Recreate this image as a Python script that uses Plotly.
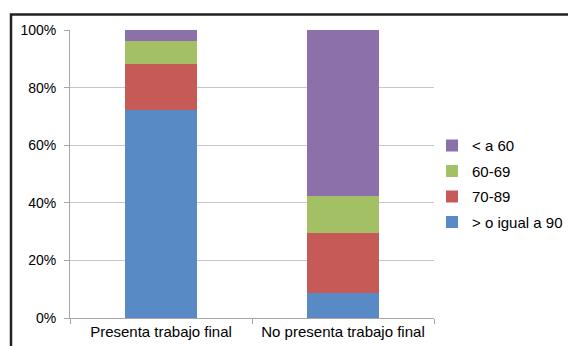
import plotly.graph_objects as go

categories = ["Presenta trabajo final", "No presenta trabajo final"]
series_names = ["> o igual a 90", "70-89", "60-69", "< a 60"]
v_90 = [72.1, 8.8]
v_70_89 = [16.2, 20.8]
v_60_69 = [7.8, 12.8]
v_lt60 = [3.9, 57.6]
colors = ["#588BC5", "#C65A56", "#A3C164", "#8B70AA"]
y_ticks = [0, 20, 40, 60, 80, 100]
y_tick_text = ["0%", "20%", "40%", "60%", "80%", "100%"]

fig = go.Figure()
for i, (name, vals) in enumerate(zip(series_names, [v_90, v_70_89, v_60_69, v_lt60])):
    fig.add_trace(go.Bar(x=categories, y=vals, name=name, marker_color=colors[i],
                         marker_line_width=0, width=0.4, legendgroup=name,
                         legendrank=10 - i))

W, H = 568, 346
ml, mr, mt, mb = 70, 134, 29.5, 28
pw, ph = W - ml - mr, H - mt - mb

def px_x(p):
    return (p - ml) / pw

def px_y(p):
    return (H - mb - p) / ph

fig.update_layout(
    width=W, height=H, barmode="stack",
    margin=dict(l=ml, r=mr, t=mt, b=mb, pad=0, autoexpand=False),
    paper_bgcolor="white", plot_bgcolor="white",
    font=dict(family="Liberation Sans, Arial, sans-serif", size=15, color="#000"),
    showlegend=True,
    legend=dict(x=px_x(432), y=px_y(129), xanchor="left", yanchor="top",
                traceorder="grouped", tracegroupgap=3,
                font=dict(size=15), itemwidth=30, bgcolor="rgba(0,0,0,0)"),
    xaxis=dict(showline=True, linecolor="#A6A6A6", linewidth=1, ticks="outside",
               tickson="boundaries", ticklen=5, tickcolor="#A6A6A6", tickangle=0,
               automargin=False, tickfont=dict(size=15), showgrid=False),
    yaxis=dict(range=[0, 100], tickmode="array", tickvals=y_ticks, ticktext=y_tick_text,
               showline=True, linecolor="#A6A6A6", linewidth=1, ticks="outside", ticklen=5,
               tickcolor="#A6A6A6", gridcolor="#C6C6C6", gridwidth=1, automargin=False,
               ticklabelstandoff=5, tickfont=dict(size=14), zeroline=False),
    shapes=[dict(type="rect", xref="paper", yref="paper",
                 x0=px_x(11), x1=px_x(W + 20), y0=px_y(H + 20), y1=px_y(14),
                 line=dict(color="#222", width=2.5), fillcolor="rgba(0,0,0,0)", layer="above")],
)

fig.write_html("out.html")
